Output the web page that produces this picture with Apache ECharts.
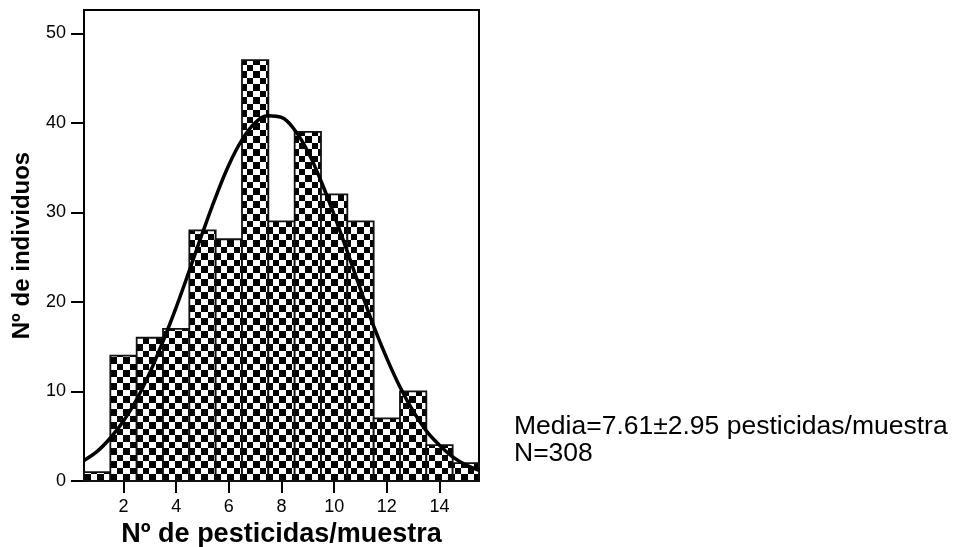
<!DOCTYPE html>
<html>
<head>
<meta charset="utf-8">
<script src="https://cdn.jsdelivr.net/npm/echarts@6/dist/echarts.min.js"></script>
<style>
  html, body { margin: 0; padding: 0; background: #fff; }
  #chart { width: 956px; height: 547px; }
</style>
</head>
<body>
<div id="chart"></div>
<script>
// ---- data ----
const binCenters = [1, 2, 3, 4, 5, 6, 7, 8, 9, 10, 11, 12, 13, 14, 15];
const binCounts  = [1, 14, 16, 17, 28, 27, 47, 29, 39, 32, 29, 7, 10, 4, 2];
const binWidth = 1;

const curveX = [0.5, 1, 1.5, 2, 2.5, 3, 3.5, 4, 4.5, 5, 5.5, 6, 6.5, 7, 7.5, 8,
                8.5, 9, 9.5, 10, 10.5, 11, 11.5, 12, 12.5, 13, 13.5, 14, 14.5, 15, 15.5];
const curveY = [2.3, 3.3, 4.8, 6.7, 9.1, 12.1, 15.6, 19.4, 23.5, 27.7, 31.7, 35.3, 38.1, 40.0, 40.8, 40.6,
                39.2, 36.8, 33.5, 29.7, 25.6, 21.4, 17.3, 13.7, 10.5, 7.8, 5.6, 4.0, 2.7, 1.8, 1.2];

const xTicks = [2, 4, 6, 8, 10, 12, 14];
const yTicks = [0, 10, 20, 30, 40, 50];

const xTitle = 'Nº de pesticidas/muestra';
const yTitle = 'Nº de individuos';
const noteLines = ['Media=7.61±2.95 pesticidas/muestra', 'N=308'];

// ---- checker pattern ----
const tile = document.createElement('canvas');
tile.width = 13; tile.height = 13;
const tc = tile.getContext('2d');
tc.fillStyle = '#fff'; tc.fillRect(0, 0, 13, 13);
tc.fillStyle = '#000';
tc.fillRect(0, 0, 6, 6);
tc.fillRect(6, 6, 7, 7);
const checker = { image: tile, repeat: 'repeat' };

const chart = echarts.init(document.getElementById('chart'), null, { renderer: 'canvas' });

const font = 'Liberation Sans, Arial, sans-serif';

chart.setOption({
  animation: false,
  backgroundColor: '#fff',
  grid: {
    left: 84, right: 477, top: 10, bottom: 66,
    outerBoundsMode: 'none', containLabel: false,
    show: true, borderColor: '#000', borderWidth: 2, backgroundColor: 'transparent'
  },
  xAxis: {
    type: 'value', min: 0.5, max: 15.5,
    name: xTitle, nameLocation: 'middle', nameGap: 39,
    nameTextStyle: { fontFamily: font, fontWeight: 'bold', fontSize: 27, color: '#000' },
    axisLine: { show: true, lineStyle: { color: '#000', width: 2 } },
    axisTick: { show: true, length: 12, lineStyle: { color: '#000', width: 2 }, customValues: xTicks },
    axisLabel: { customValues: xTicks, margin: 17, fontFamily: font, fontSize: 18, color: '#000' },
    splitLine: { show: false }
  },
  yAxis: {
    type: 'value', min: 0, max: 52.6,
    name: yTitle, nameLocation: 'middle', nameGap: 50, nameRotate: 90,
    nameTextStyle: { fontFamily: font, fontWeight: 'bold', fontSize: 24, color: '#000' },
    axisLine: { show: true, lineStyle: { color: '#000', width: 2 } },
    axisTick: { show: true, length: 13, lineStyle: { color: '#000', width: 2 }, customValues: yTicks },
    axisLabel: { customValues: yTicks, margin: 18, fontFamily: font, fontSize: 18, color: '#000' },
    splitLine: { show: false }
  },
  series: [
    {
      type: 'custom',
      data: binCenters.map((c, i) => [c, binCounts[i]]),
      renderItem: function (params, api) {
        const c = api.value(0), v = api.value(1);
        const p0 = api.coord([c - binWidth / 2, v]);
        const p1 = api.coord([c + binWidth / 2, 0]);
        return {
          type: 'rect',
          shape: { x: p0[0], y: p0[1], width: p1[0] - p0[0], height: p1[1] - p0[1] },
          style: { fill: checker, stroke: '#111', lineWidth: 1.8 }
        };
      },
      z: 2
    },
    {
      type: 'line',
      data: curveX.map((x, i) => [x, curveY[i]]),
      smooth: 0.4,
      symbol: 'none',
      lineStyle: { color: '#000', width: 3.5 },
      z: 5
    }
  ],
  graphic: [
    {
      type: 'text', left: 514, top: 413,
      style: {
        text: noteLines.join('\n'),
        fontFamily: font, fontSize: 26.5, lineHeight: 27, fill: '#000'
      }
    }
  ]
});
</script>
</body>
</html>
